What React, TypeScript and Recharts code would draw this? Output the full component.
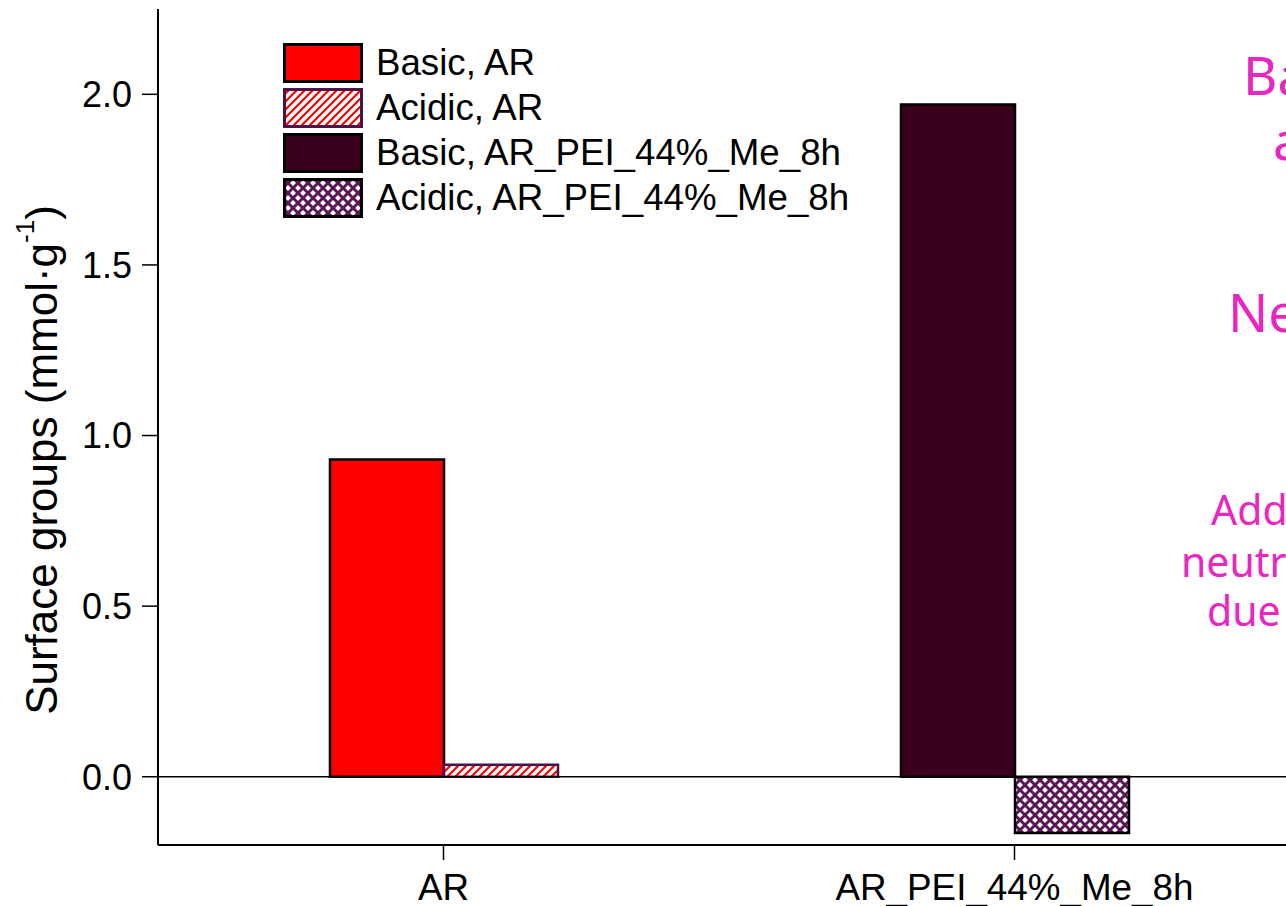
import React from 'react'
import { Bar, BarChart, Legend, ReferenceLine, XAxis, YAxis } from 'recharts'

// values (mmol/g)
const categories = ['AR', 'AR_PEI_44%_Me_8h']
const basicAR = [0.93, null]
const acidicAR = [0.035, null]
const basicPEI = [null, 1.97]
const acidicPEI = [null, -0.165]
const yTicks = [0, 0.5, 1.0, 1.5, 2.0]
const seriesNames = [
  'Basic, AR',
  'Acidic, AR',
  'Basic, AR_PEI_44%_Me_8h',
  'Acidic, AR_PEI_44%_Me_8h'
]
const notes = [
  { text: 'Basic groups', x: 1243, y: 95, size: 53 },
  { text: 'added', x: 1273, y: 160, size: 53 },
  { text: 'Net basic', x: 1228, y: 332, size: 53 },
  { text: 'Additional', x: 1211, y: 525, size: 41 },
  { text: 'neutralization', x: 1181, y: 577, size: 41 },
  { text: 'due to PEI', x: 1207, y: 626, size: 41 }
]

const data = categories.map((category, i) => ({
  category,
  basicAR: basicAR[i],
  acidicAR: acidicAR[i],
  basicPEI: basicPEI[i],
  acidicPEI: acidicPEI[i]
}))

const series = [
  { key: 'basicAR', stackId: 'basic', fill: '#ff0000', stroke: '#000000' },
  { key: 'acidicAR', stackId: 'acidic', fill: 'url(#hatchRed)', stroke: '#4b1248' },
  { key: 'basicPEI', stackId: 'basic', fill: '#3a001c', stroke: '#000000' },
  { key: 'acidicPEI', stackId: 'acidic', fill: 'url(#crossPurple)', stroke: '#000000' }
]

const FONT = '"Liberation Sans", Arial, sans-serif'

function renderLegend() {
  return (
    <div style={{ fontFamily: FONT, fontSize: 36.7, color: '#000' }}>
      {series.map((s, i) => (
        <div key={s.key} style={{ display: 'flex', alignItems: 'flex-start', height: 45 }}>
          <svg width={80} height={40} style={{ display: 'block' }}>
            <rect x={1.5} y={1.5} width={77} height={37} fill={s.fill} stroke={s.stroke} strokeWidth={3} />
          </svg>
          <span style={{ marginLeft: 13, lineHeight: '40px', whiteSpace: 'nowrap' }}>{seriesNames[i]}</span>
        </div>
      ))}
    </div>
  )
}

function YLabel() {
  return (
    <text
      transform="translate(41, 460) rotate(-90)"
      textAnchor="middle"
      dominantBaseline="central"
      fontFamily={FONT}
      fontSize={44}
      fill="#000"
    >
      Surface groups (mmol·g
      <tspan dy={-16} fontSize={26}>-1</tspan>
      <tspan dy={16}>)</tspan>
    </text>
  )
}

export default function App() {
  return (
    <div style={{ position: 'absolute', left: 0, top: 0, width: 1286, height: 906, overflow: 'hidden', background: '#fff' }}>
      <BarChart
        width={1320}
        height={906}
        data={data}
        margin={{ top: 9, right: 20, bottom: 0, left: 0 }}
        barSize={114}
        barGap={0}
      >
        <defs>
          <pattern id="hatchRed" patternUnits="userSpaceOnUse" width={8} height={8}>
            <rect width={8} height={8} fill="#ffffff" />
            <path d="M-2,2 L2,-2 M0,8 L8,0 M6,10 L10,6" stroke="#ff0000" strokeWidth={2.2} />
          </pattern>
          <pattern id="crossPurple" patternUnits="userSpaceOnUse" width={10} height={10}>
            <rect width={10} height={10} fill="#ffffff" />
            <path d="M0,0 L10,10 M10,0 L0,10" stroke="#5a1656" strokeWidth={3} />
          </pattern>
        </defs>
        <XAxis
          dataKey="category"
          height={61}
          axisLine={{ stroke: '#000', strokeWidth: 2 }}
          tickLine={{ stroke: '#000', strokeWidth: 1.5 }}
          tickSize={15}
          tickMargin={14}
          tick={{ fontFamily: FONT, fontSize: 36.8, fill: '#000' }}
        />
        <YAxis
          type="number"
          width={158}
          domain={[-0.2, 2.25]}
          allowDataOverflow
          ticks={yTicks}
          tickFormatter={(v: number) => v.toFixed(1)}
          axisLine={{ stroke: '#000', strokeWidth: 2 }}
          tickLine={{ stroke: '#000', strokeWidth: 1.5 }}
          tickSize={16}
          tickMargin={10}
          tick={{ fontFamily: FONT, fontSize: 36, fill: '#000' }}
          label={<YLabel />}
        />
        <ReferenceLine y={0} stroke="#000" strokeWidth={1.5} />
        {series.map((s, i) => (
          <Bar
            key={s.key}
            dataKey={s.key}
            name={seriesNames[i]}
            stackId={s.stackId}
            fill={s.fill}
            stroke={s.stroke}
            strokeWidth={2.5}
            isAnimationActive={false}
          />
        ))}
        <Legend
          layout="vertical"
          align="center"
          verticalAlign="middle"
          content={renderLegend}
          wrapperStyle={{ left: 283, top: 43, width: 'auto', height: 'auto' }}
        />
      </BarChart>
      <svg
        width={1286}
        height={906}
        style={{ position: 'absolute', left: 0, top: 0, pointerEvents: 'none' }}
      >
        {notes.map((n) => (
          <text
            key={n.text}
            x={n.x}
            y={n.y}
            fontFamily='"Noto Sans", "Open Sans", sans-serif'
            fontSize={n.size}
            fill="#e826c0"
          >
            {n.text}
          </text>
        ))}
      </svg>
    </div>
  )
}
